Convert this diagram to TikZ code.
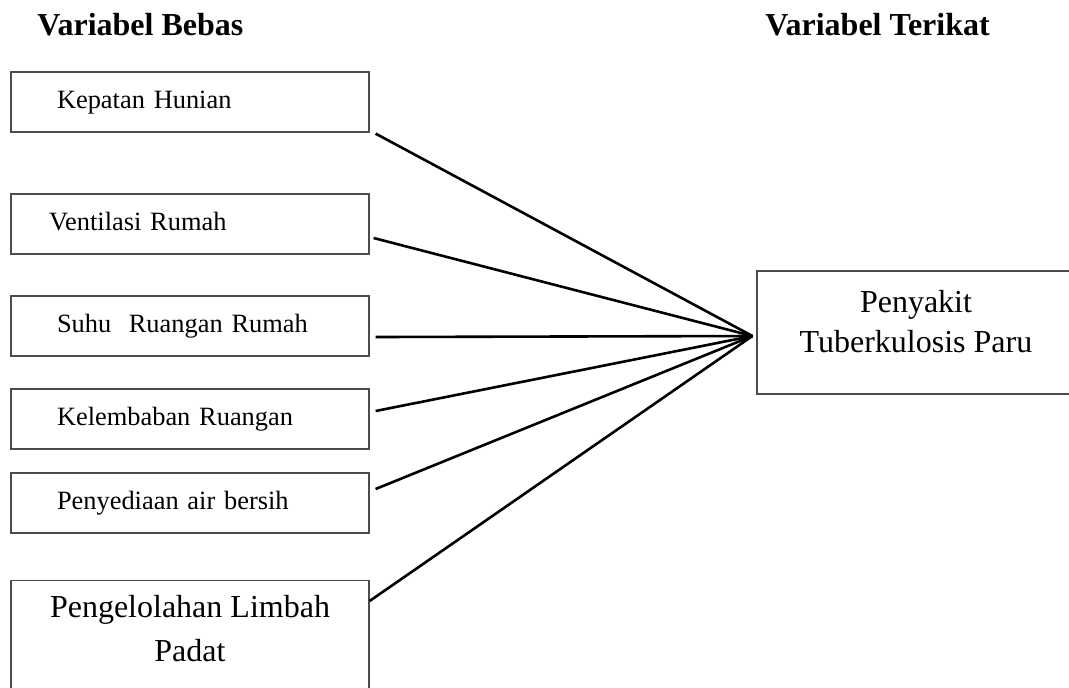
\documentclass[tikz,border=0pt]{standalone}
\usepackage{fontspec}
\setmainfont{Liberation Serif}

\tikzset{
  varbox/.style = {draw=black!70, line width=0.6pt, minimum width=179pt, minimum height=30pt,
    text width=133pt, inner xsep=23pt, inner ysep=0pt, align=left,
    text height=9pt, text depth=3pt, font=\fontsize{13.2}{16}\selectfont},
  bigbox/.style = {draw=black!70, line width=0.6pt, inner sep=0pt},
  bigtext/.style = {align=center, inner sep=0pt, font=\fontsize{16}{20}\selectfont},
  head/.style = {anchor=base west, inner sep=0pt, font=\fontsize{16}{19}\selectfont\bfseries},
  link/.style = {line width=1.3pt}
}

\begin{document}
\begin{tikzpicture}[x=0.5pt, y=-0.5pt]
	\useasboundingbox (0,0) rectangle (1069,687);
	% judul
	\node[head] (hbebas) at (37,35) {Variabel Bebas};
	\node[head] (hterikat) at (765,35) {Variabel Terikat};
	% variabel bebas
	\node[varbox] (kepadatan) at (190,102) {Kepatan Hunian};
	\node[varbox, inner xsep=19pt, text width=141pt] (ventilasi) at (190,224) {Ventilasi Rumah};
	\node[varbox] (suhu) at (190,326) {Suhu\ \ Ruangan Rumah};
	\node[varbox] (lembab) at (190,419) {Kelembaban Ruangan};
	\node[varbox] (air) at (190,503) {Penyediaan air bersih};
	\node[bigbox, minimum width=179pt, minimum height=60pt, anchor=north] (limbah) at (190,580) {};
	\node[bigtext, font=\fontsize{16}{22}\selectfont] (limbahtext) at ([yshift=-24.5pt]limbah.north) {Pengelolahan Limbah\\Padat};
	% variabel terikat
	\node[bigbox, minimum width=159pt, minimum height=61.5pt] (tbc) at (916,332.5) {};
	\node[bigtext] (tbctext) at ([yshift=5.7pt]tbc.center) {Penyakit\\Tuberkulosis Paru};
	\coordinate (hub) at ([xshift=-2pt,yshift=-1.75pt]tbc.west);
	% garis
	\draw[link] ([xshift=3pt,yshift=-0.5pt]kepadatan.south east) -- (hub);
	\draw[link] ([xshift=2pt,yshift=-7pt]ventilasi.east) -- (hub);
	\draw[link] ([xshift=3pt,yshift=-5.5pt]suhu.east) -- (hub);
	\draw[link] ([xshift=3pt,yshift=4pt]lembab.east) -- (hub);
	\draw[link] ([xshift=3pt,yshift=7pt]air.east) -- (hub);
	\draw[link] ([yshift=-10.5pt]limbah.north east) -- (hub);
\end{tikzpicture}
\end{document}
